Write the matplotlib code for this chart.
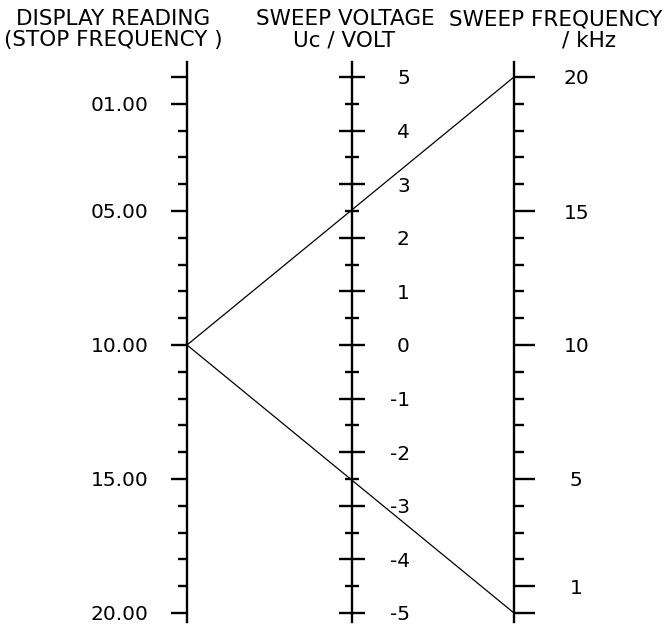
import matplotlib
matplotlib.use("Agg")
import matplotlib.pyplot as plt
from matplotlib.patches import ConnectionPatch
from matplotlib.ticker import FixedLocator, FixedFormatter

# Nomogramm-Daten
display_major = [0, 1, 5, 10, 15, 20]
display_labels = ["", "01.00", "05.00", "10.00", "15.00", "20.00"]
display_minor = [v for v in range(0, 21) if v not in display_major]

voltage_major = [-5, -4, -3, -2, -1, 0, 1, 2, 3, 4, 5]
voltage_labels = ["-5", "-4", "-3", "-2", "-1", "0", "1", "2", "3", "4", "5"]
voltage_minor = [-4.5, -3.5, -2.5, -1.5, -0.5, 0.5, 1.5, 2.5, 3.5, 4.5]

freq_major = [0, 1, 5, 10, 15, 20]
freq_labels = ["", "1", "5", "10", "15", "20"]
freq_minor = [v for v in range(0, 21) if v not in freq_major]

reading = 10.0          # Anzeige (Stopfrequenz)
sweep_freqs = [20, 0]   # kHz an den Sweep-Enden

W, H = 665, 628
fig = plt.figure(figsize=(W / 100, H / 100), dpi=100)
FS = 14.5
LW = 1.7


def skala(x_px, top_val, bot_val):
    # Achse als schmale Axes; Werte top_val bei y=77 px, bot_val bei y=613 px
    y_top, y_bot = 62, 622
    t_px, b_px = 77, 613
    k = (bot_val - top_val) / (b_px - t_px)
    ax = fig.add_axes([x_px / W, 1 - y_bot / H, 0.0008, (y_bot - y_top) / H])
    ax.set_ylim(bot_val + (y_bot - b_px) * k, top_val - (t_px - y_top) * k)
    ax.set_xlim(0, 1)
    ax.patch.set_visible(False)
    for s in ["top", "bottom", "right"]:
        ax.spines[s].set_visible(False)
    ax.spines["left"].set_linewidth(LW)
    ax.set_xticks([])
    return ax


# linke Skala: Display
ax1 = skala(187, 0, 20)
ax1.yaxis.set_major_locator(FixedLocator(display_major))
ax1.yaxis.set_major_formatter(FixedFormatter(display_labels))
ax1.yaxis.set_minor_locator(FixedLocator(display_minor))
ax1.tick_params(axis="y", which="major", length=11.5, width=LW, pad=16, labelsize=FS)
ax1.tick_params(axis="y", which="minor", length=6.5, width=LW)

# mittlere Skala: Sweep-Spannung
ax2 = skala(352, 5, -5)
ax2.yaxis.set_major_locator(FixedLocator(voltage_major))
ax2.yaxis.set_major_formatter(FixedFormatter(voltage_labels))
ax2.yaxis.set_minor_locator(FixedLocator(voltage_minor))
ax2.tick_params(axis="y", which="both", direction="inout", left=True, right=False,
                labelleft=False, labelright=True)
ax2.tick_params(axis="y", which="major", length=18.5, width=LW, pad=32, labelsize=FS)
ax2.tick_params(axis="y", which="minor", length=10, width=LW)
for t in ax2.yaxis.get_major_ticks():
    t.label2.set_horizontalalignment("right")

# rechte Skala: Sweep-Frequenz
ax3 = skala(514, 20, 0)
ax3.yaxis.set_major_locator(FixedLocator(freq_major))
ax3.yaxis.set_major_formatter(FixedFormatter(freq_labels))
ax3.yaxis.set_minor_locator(FixedLocator(freq_minor))
ax3.tick_params(axis="y", which="both", direction="out", left=False, right=True,
                labelleft=False, labelright=True)
ax3.tick_params(axis="y", which="major", length=14.4, width=LW, pad=30, labelsize=FS)
ax3.tick_params(axis="y", which="minor", length=6.5, width=LW)
for t in ax3.yaxis.get_major_ticks():
    t.label2.set_horizontalalignment("center")

# Verbindungslinien
for f in sweep_freqs:
    con = ConnectionPatch(xyA=(0, reading), coordsA=ax1.transData,
                          xyB=(0, f), coordsB=ax3.transData,
                          color="black", lw=0.9)
    fig.add_artist(con)

# Ueberschriften
kopf = [
    (113, 19, "DISPLAY READING"),
    (113, 40, "(STOP FREQUENCY )"),
    (345, 19, "SWEEP VOLTAGE"),
    (344, 40, "Uc / VOLT"),
    (556, 19, "SWEEP FREQUENCY"),
    (589, 40, "/ kHz"),
]
for x, y, s in kopf:
    fig.text(x / W, 1 - y / H, s, ha="center", va="center", fontsize=15.5)

fig.savefig("out.png", dpi=100)
